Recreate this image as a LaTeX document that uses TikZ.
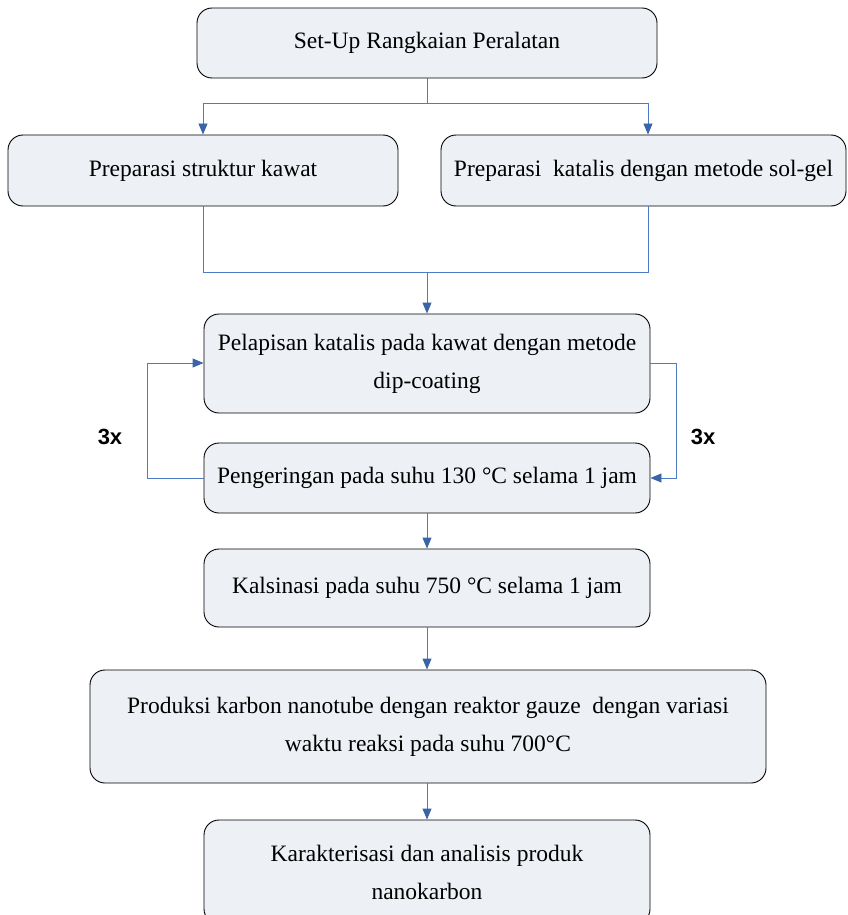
\documentclass[tikz,border=0pt]{standalone}
\usepackage{fontspec}
\setmainfont{Liberation Serif}
\newfontfamily\labfont{Liberation Sans}
\usetikzlibrary{arrows.meta}
\definecolor{boxfill}{HTML}{EDF0F5}
\definecolor{lineblue}{HTML}{4F7BC4}
\definecolor{tipblue}{HTML}{3B64A8}
\begin{document}
\begin{tikzpicture}[x=1pt,y=-1pt,
  box/.style={draw=black, line width=0.9pt, fill=boxfill, rounded corners=15pt,
    inner sep=0pt, align=center, font=\fontsize{23.5}{38}\selectfont},
  conn/.style={draw=lineblue, line width=0.9pt},
  arr/.style={conn, -{Triangle[length=11pt,width=9pt,fill=tipblue,color=tipblue]}},
  lab/.style={font=\labfont\bfseries\fontsize{22}{26}\selectfont}]
\useasboundingbox (0,0) rectangle (848,915);
\node[box, minimum width=460pt, minimum height=70pt] (setup) at (427,43) {Set-Up Rangkaian Peralatan};
\node[box, minimum width=390pt, minimum height=71pt] (prepA) at (203,170.5) {Preparasi struktur kawat};
\node[box, minimum width=405pt, minimum height=71pt] (prepB) at (643.5,170.5) {Preparasi\ \ katalis dengan metode sol-gel};
\node[box, minimum width=446pt, minimum height=99pt] (coat) at (427,363.5) {Pelapisan katalis pada kawat dengan metode\\dip-coating};
\node[box, minimum width=446pt, minimum height=70pt] (dry) at (427,478) {Pengeringan pada suhu 130 °C selama 1 jam};
\node[box, minimum width=446pt, minimum height=78pt] (calc) at (427,588) {Kalsinasi pada suhu 750 °C selama 1 jam};
\node[box, minimum width=676pt, minimum height=113pt] (prod) at (428,726.5) {Produksi karbon nanotube dengan reaktor gauze\ \ dengan variasi\\waktu reaksi pada suhu 700°C};
\node[box, minimum width=446pt, minimum height=104pt] (char) at (427,872) {Karakterisasi dan analisis produk\\nanokarbon};
\coordinate (s1) at (427,103);
\coordinate (s2) at (427,272);
\node[lab] (lx) at (110,437) {3x};
\node[lab] (rx) at (703,437) {3x};
% split from setup
\draw[conn] (setup.south) -- (s1);
\draw[arr] (s1) -| (prepA.north);
\draw[arr] (s1) -| ([xshift=4.5pt]prepB.north);
% merge
\draw[conn] (prepA.south) |- (s2);
\draw[conn] ([xshift=4.5pt]prepB.south) |- (s2);
\draw[arr] (s2) -- (coat.north);
% loops
\draw[arr] (dry.west) -- ++(-56,0) |- ([yshift=0.5pt]coat.west);
\draw[arr] ([yshift=0.5pt]coat.east) -- ++(26,0) |- (dry.east);
% main chain
\draw[arr] (dry.south) -- (calc.north);
\draw[arr] (calc.south) -- (prod.north -| calc.south);
\draw[arr] (prod.south -| char.north) -- (char.north);
\end{tikzpicture}
\end{document}
